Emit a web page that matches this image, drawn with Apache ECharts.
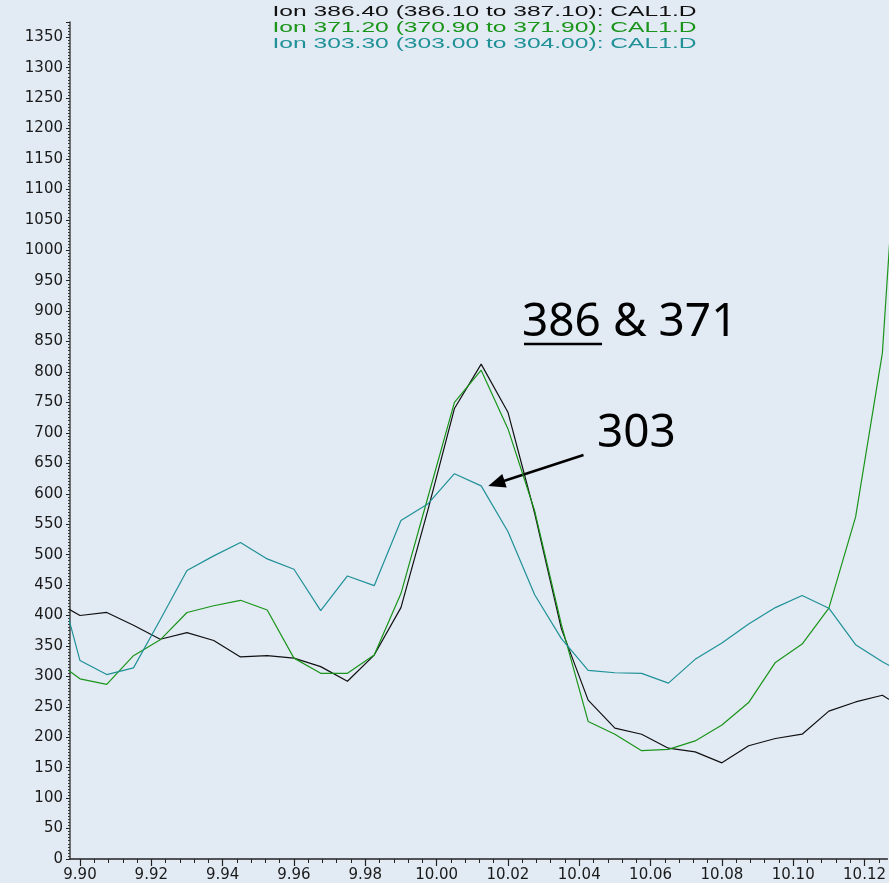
<!DOCTYPE html>
<html><head><meta charset="utf-8">
<script src="https://cdn.jsdelivr.net/npm/echarts@6/dist/echarts.min.js"></script>
<style>html,body{margin:0;padding:0;background:#e2eaf4}#c{width:889px;height:883px}</style>
</head><body><div id="c"></div>
<script>
// retention time (min)
const times = [9.8925, 9.9000, 9.9075, 9.9150, 9.9225, 9.9300, 9.9375, 9.9450, 9.9525, 9.9600,
  9.9675, 9.9750, 9.9825, 9.9900, 9.9975, 10.0050, 10.0125, 10.0200, 10.0275, 10.0350,
  10.0425, 10.0500, 10.0575, 10.0650, 10.0725, 10.0800, 10.0875, 10.0950, 10.1025, 10.1100,
  10.1175, 10.1250, 10.1325];
// Ion 386.40
const ion386 = [425, 400, 405, 384, 361, 372, 359, 332, 334, 330,
  316, 292, 335, 413, 572, 740, 813, 734, 568, 378,
  261, 215, 205, 182, 176, 158, 186, 198, 205, 243,
  258, 269, 242];
// Ion 371.20
const ion371 = [328, 296, 287, 334, 360, 405, 416, 425, 409, 330,
  305, 305, 335, 436, 593, 750, 803, 707, 572, 385,
  226, 205, 178, 180, 194, 220, 257, 323, 353, 412,
  562, 831, 1500];
// Ion 303.30
const ion303 = [490, 326, 303, 314, 393, 474, 498, 520, 493, 476,
  408, 465, 449, 556, 583, 633, 613, 538, 434, 362,
  310, 306, 305, 289, 328, 355, 386, 413, 433, 412,
  352, 324, 300];
const xTickLabels = [9.90, 9.92, 9.94, 9.96, 9.98, 10.00, 10.02, 10.04, 10.06, 10.08, 10.10, 10.12];
const seriesNames = ['Ion 386.40 (386.10 to 387.10): CAL1.D', 'Ion 371.20 (370.90 to 371.90): CAL1.D', 'Ion 303.30 (303.00 to 304.00): CAL1.D'];
const seriesColors = ['#111111', '#1a951a', '#1f9197'];
const annoMainA = '386';
const annoMainB = ' & 371';
const anno303 = '303';

const X_MIN = 9.8972, X_MAX = 10.1264, Y_MAX = 1375;
const minorX = [];
for (let n = 0; ; n++) { const v = +(xTickLabels[0] + n * 0.004).toFixed(3); if (v > X_MAX) break; minorX.push(v); }

const chart = echarts.init(document.getElementById('c'));
const lab = { fontFamily: 'DejaVu Sans', fontSize: 15, color: '#1a1a1a' };
const allSeries = [ion386, ion371, ion303];
const titleY = [12, 28, 44];

chart.setOption({
  animation: false,
  backgroundColor: '#e2eaf4',
  grid: { left: 70, right: 0, top: 22, bottom: 24, containLabel: false },
  xAxis: [{
    type: 'value', min: X_MIN, max: X_MAX, position: 'bottom',
    axisLine: { show: true, lineStyle: { color: '#222', width: 1.5 } },
    axisTick: { show: true, customValues: xTickLabels, length: 7, lineStyle: { color: '#222', width: 1.2 } },
    axisLabel: Object.assign({ customValues: xTickLabels, margin: 9, formatter: v => v.toFixed(2) }, lab),
    splitLine: { show: false }
  }, {
    type: 'value', min: X_MIN, max: X_MAX, position: 'bottom',
    axisLine: { show: false },
    axisTick: { show: true, customValues: minorX, length: 4, lineStyle: { color: '#222', width: 1 } },
    axisLabel: { show: false },
    splitLine: { show: false }
  }],
  yAxis: {
    type: 'value', min: 0, max: Y_MAX, interval: 50,
    axisLine: { show: true, lineStyle: { color: '#444', width: 1.5 } },
    axisTick: { show: true, length: 4, lineStyle: { color: '#222' } },
    minorTick: { show: true, splitNumber: 10, length: 2, lineStyle: { color: '#333' } },
    axisLabel: Object.assign({ margin: 7, showMaxLabel: false, formatter: v => String(v) }, lab),
    splitLine: { show: false }
  },
  series: allSeries.map((vals, k) => ({
    type: 'line', name: seriesNames[k], xAxisIndex: 0,
    data: times.map((t, i) => [t, vals[i]]),
    symbol: 'none', clip: true,
    lineStyle: { color: seriesColors[k], width: 1.2 },
    itemStyle: { color: seriesColors[k] }
  })),
  graphic: [
    ...seriesNames.map((s, k) => ({
      type: 'text', x: 484.5, y: titleY[k], scaleX: 1.64,
      style: { text: s, fill: seriesColors[k], font: '15px "Liberation Sans"', textAlign: 'center', textVerticalAlign: 'middle' }
    })),
    { type: 'text', x: 522, y: 323, style: { text: annoMainA + annoMainB, fill: '#000', font: '46px "Noto Sans"', textAlign: 'left', textVerticalAlign: 'middle' } },
    { type: 'line', shape: { x1: 524, y1: 344, x2: 602, y2: 344 }, style: { stroke: '#000', lineWidth: 2.5 } },
    { type: 'text', x: 597, y: 434, style: { text: anno303, fill: '#000', font: '46px "Noto Sans"', textAlign: 'left', textVerticalAlign: 'middle' } },
    { type: 'line', shape: { x1: 583.5, y1: 455, x2: 503, y2: 481.3 }, style: { stroke: '#000', lineWidth: 2.5 } },
    { type: 'polygon', shape: { points: [[488.3, 486], [506.7, 487.4], [502.3, 474.0]] }, style: { fill: '#000' } }
  ]
});
</script></body></html>
